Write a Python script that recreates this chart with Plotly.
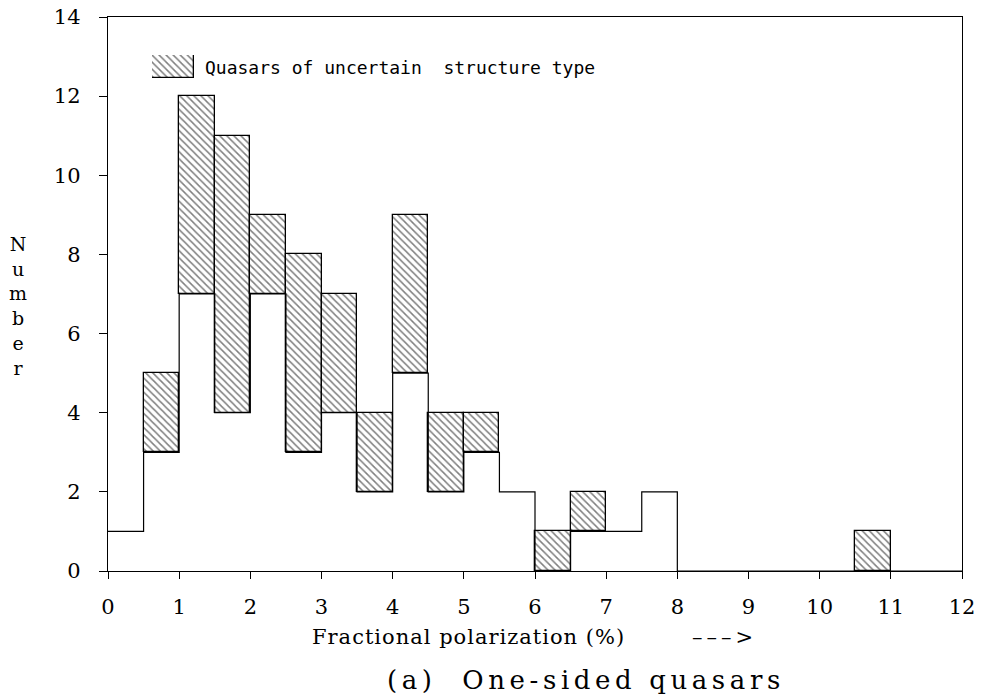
import plotly.graph_objects as go

# Histogram bins (fractional polarization, %), width 0.5
bin_left = [0.0, 0.5, 1.0, 1.5, 2.0, 2.5, 3.0, 3.5, 4.0, 4.5, 5.0, 5.5,
            6.0, 6.5, 7.0, 7.5, 8.0, 8.5, 9.0, 9.5, 10.0, 10.5, 11.0, 11.5]
# One-sided quasars (definite structure) - open histogram
base_counts = [1, 3, 7, 4, 7, 3, 4, 2, 5, 2, 3, 2,
               0, 1, 1, 2, 0, 0, 0, 0, 0, 0, 0, 0]
# Total including quasars of uncertain structure type
total_counts = [1, 5, 12, 11, 9, 8, 7, 4, 9, 4, 4, 2,
                1, 2, 1, 2, 0, 0, 0, 0, 0, 1, 0, 0]
bin_width = 0.5

x_ticks = list(range(0, 13))
y_ticks = list(range(0, 15, 2))

legend_text = "Quasars of uncertain  structure type"
x_title = "Fractional polarization (%)"
x_arrow = "–––&gt;"
fig_title = "(a)  One-sided quasars"
y_title = "Number"

SERIF = "DejaVu Serif"

fig = go.Figure()

hatch = dict(shape="\\", fgcolor="black", bgcolor="white", size=5, solidity=0.3)

# Hatched part (uncertain-type quasars), stacked on top of the open histogram
hx, hy, hb = [], [], []
for xl, b, t in zip(bin_left, base_counts, total_counts):
    if t > b:
        hx.append(xl + bin_width / 2)
        hy.append(t - b)
        hb.append(b)

fig.add_trace(go.Bar(
    x=hx, y=hy, base=hb, width=bin_width,
    marker=dict(color="white", line=dict(color="black", width=1.3), pattern=hatch),
    showlegend=False, hoverinfo="skip",
))

# Open histogram outline (step)
step_x = bin_left + [bin_left[-1] + bin_width]
step_y = base_counts + [base_counts[-1]]
fig.add_trace(go.Scatter(
    x=step_x, y=step_y, mode="lines", line_shape="hv",
    line=dict(color="black", width=1.2),
    showlegend=False, hoverinfo="skip",
))

# Legend swatch drawn as a hatched bar in its own small axes
fig.add_trace(go.Bar(
    x=[0.5], y=[1], width=1, xaxis="x2", yaxis="y2",
    marker=dict(color="white", line=dict(color="black", width=1.3), pattern=hatch),
    showlegend=False, hoverinfo="skip",
))

L, R, T, B = 108, 19, 17, 127
W, H = 981, 698
pw, ph = W - L - R, H - T - B

def px_x(px):
    return (px - L) / pw

def px_y(py):
    return (H - B - py) / ph

fig.update_layout(
    width=W, height=H,
    margin=dict(l=L, r=R, t=T, b=B, autoexpand=False),
    paper_bgcolor="white", plot_bgcolor="white",
    bargap=0, barmode="overlay",
    showlegend=False,
    font=dict(family=SERIF, color="black"),
    xaxis=dict(range=[0, 12], tickvals=x_ticks, ticktext=[str(v) for v in x_ticks],
               ticks="outside", ticklen=7, tickwidth=1.2, tickcolor="black",
               showline=True, linecolor="black", linewidth=1.4, mirror=True,
               showgrid=False, zeroline=False, automargin=False,
               tickfont=dict(family=SERIF, size=21, color="black"),
               ticklabelstandoff=10),
    yaxis=dict(range=[0, 14], tickvals=y_ticks, ticktext=[str(v) for v in y_ticks],
               ticks="outside", ticklen=8, tickwidth=1.2, tickcolor="black",
               showline=True, linecolor="black", linewidth=1.4, mirror=True,
               showgrid=False, zeroline=False, automargin=False,
               tickfont=dict(family=SERIF, size=21, color="black"),
               ticklabelstandoff=14),
    xaxis2=dict(domain=[px_x(152), px_x(194)], range=[0, 1], visible=False,
                anchor="y2", fixedrange=True),
    yaxis2=dict(domain=[px_y(78), px_y(55)], range=[0, 1], visible=False,
                anchor="x2", fixedrange=True),
)

fig.add_annotation(text=legend_text, xref="paper", yref="paper",
                   x=px_x(203), y=px_y(68), xanchor="left", yanchor="middle",
                   showarrow=False,
                   font=dict(family="DejaVu Sans Mono", size=18, color="black"))

fig.add_annotation(text='<span style="letter-spacing:1px">' + x_title + '</span>',
                   xref="paper", yref="paper",
                   x=px_x(310), y=px_y(637), xanchor="left", yanchor="middle",
                   showarrow=False, font=dict(family=SERIF, size=21, color="black"))

fig.add_annotation(text='<span style="letter-spacing:4px">' + x_arrow + '</span>',
                   xref="paper", yref="paper",
                   x=px_x(690), y=px_y(637), xanchor="left", yanchor="middle",
                   showarrow=False, font=dict(family=SERIF, size=21, color="black"))

fig.add_annotation(text='<span style="letter-spacing:4.6px">' + fig_title + '</span>',
                   xref="paper", yref="paper",
                   x=px_x(385), y=px_y(680), xanchor="left", yanchor="middle",
                   showarrow=False, font=dict(family=SERIF, size=26, color="black"))

fig.add_annotation(text="<br>".join(list(y_title)), xref="paper", yref="paper",
                   x=px_x(18), y=px_y(306), xanchor="center", yanchor="middle",
                   showarrow=False, font=dict(family=SERIF, size=19, color="black"))

fig.write_html("out.html")
